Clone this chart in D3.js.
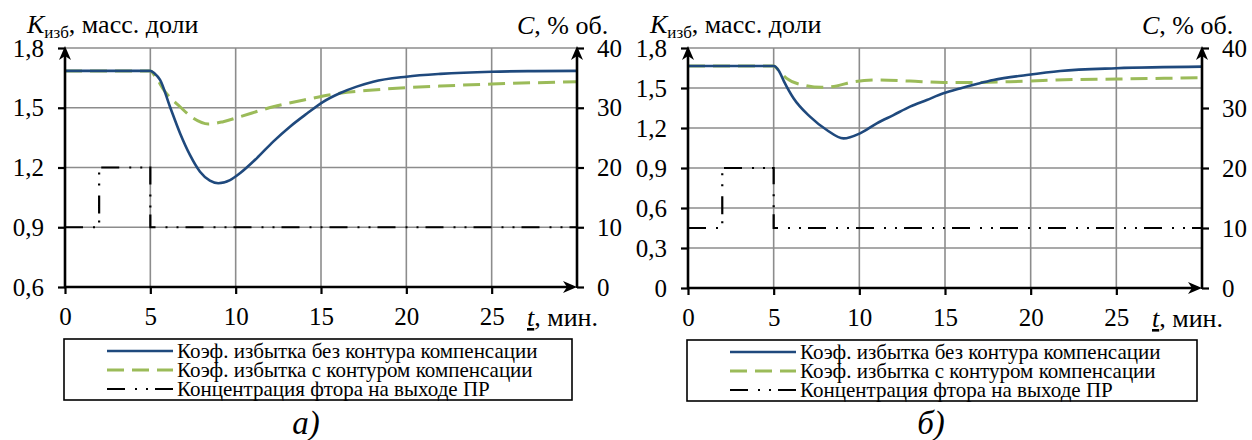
<!DOCTYPE html>
<html><head><meta charset="utf-8">
<script src="https://cdn.jsdelivr.net/npm/d3@7"></script>
<style>
body{margin:0;background:#fff}
svg{display:block}
</style>
</head><body><svg id="c" width="1252" height="440"></svg>
<script>
// ---------- data ----------
const timeTicks = [0, 5, 10, 15, 20, 25];
const timeTickLabels = ["0", "5", "10", "15", "20", "25"];
const kTicksA = [0.6, 0.9, 1.2, 1.5, 1.8];
const kTickLabelsA = ["0,6", "0,9", "1,2", "1,5", "1,8"];
const kTicksB = [0, 0.3, 0.6, 0.9, 1.2, 1.5, 1.8];
const kTickLabelsB = ["0", "0,3", "0,6", "0,9", "1,2", "1,5", "1,8"];
const cTicks = [0, 10, 20, 30, 40];
const cTickLabels = ["0", "10", "20", "30", "40"];
const legendLabels = [
  "Коэф. избытка без контура компенсации",
  "Коэф. избытка с контуром компенсации",
  "Концентрация фтора на выходе ПР"
];
const captions = ["а)", "б)"];

// panel а: coefficient without compensation
const tBlueA = [0, 5, 5.25, 5.57, 6.15, 6.74, 7.32, 7.91, 8.49, 8.98, 9.67, 10.25, 11.23, 12.2, 13.18, 14.16, 15.13, 16.1, 17.09, 18.06, 20, 22, 25, 27.5, 30];
const kBlueA = [1.685, 1.685, 1.672, 1.64, 1.505, 1.372, 1.263, 1.179, 1.134, 1.121, 1.137, 1.171, 1.246, 1.33, 1.405, 1.47, 1.53, 1.573, 1.606, 1.631, 1.656, 1.67, 1.681, 1.684, 1.685];
// panel а: coefficient with compensation
const tGreenA = [0, 5, 5.3, 5.86, 6.74, 7.52, 8.4, 9.27, 10.25, 12.2, 14.16, 16.1, 18.06, 20, 22, 25, 30];
const kGreenA = [1.685, 1.685, 1.655, 1.581, 1.505, 1.447, 1.418, 1.43, 1.455, 1.505, 1.542, 1.573, 1.589, 1.601, 1.609, 1.619, 1.631];
// panel б
const tBlueB = [0, 5, 5.3, 5.6, 6.15, 7.12, 8.1, 9.07, 10.04, 11.02, 11.99, 12.96, 13.94, 14.91, 15.88, 16.85, 17.82, 19.77, 21.72, 25, 30];
const kBlueB = [1.665, 1.665, 1.63, 1.55, 1.425, 1.285, 1.185, 1.122, 1.16, 1.235, 1.297, 1.36, 1.41, 1.46, 1.497, 1.53, 1.56, 1.597, 1.627, 1.648, 1.66];
const tGreenB = [0, 5, 5.3, 5.76, 6.73, 7.8, 8.68, 9.65, 11.02, 12.96, 14.91, 16.85, 18.8, 20, 21.5, 25, 30];
const kGreenB = [1.665, 1.665, 1.63, 1.572, 1.522, 1.505, 1.515, 1.547, 1.56, 1.552, 1.542, 1.542, 1.547, 1.552, 1.56, 1.567, 1.577];
// fluorine concentration (both panels)
const tConc = [0, 2, 2, 5, 5, 30];
const cConc = [10, 10, 20, 20, 10, 10];

// ---------- drawing ----------
const FONT = "'Liberation Serif'";
const svg = d3.select("#c").style("font-family", FONT);
const BLUE = "#1f497d", GREEN = "#9bbb59", GRID = "#8c8c8c";
const CONC_DASH = "18,10,2,9,2,7";
const GREEN_DASH = "17,8";

function arrowPath(x, y, dir) {
  if (dir === "up") return `M${x},${y} L${x - 6},${y + 14} L${x},${y + 10} L${x + 6},${y + 14} Z`;
  return `M${x},${y} L${x - 14},${y - 6} L${x - 10},${y} L${x - 14},${y + 6} Z`;
}

function txt(g, x, y, size) {
  return g.append("text").attr("x", x).attr("y", y).attr("font-size", size)
    .style("font-family", FONT).attr("fill", "#000");
}

function panel(cfg) {
  const g = svg.append("g");
  const x = d3.scaleLinear().domain([0, 30]).range([cfg.x0, cfg.x1]);
  const yK = d3.scaleLinear().domain(cfg.kDomain).range([cfg.y0, cfg.y1]);
  const yC = d3.scaleLinear().domain([0, 40]).range([cfg.y0, cfg.y1]);

  // grid
  g.append("g").selectAll("line").data(timeTicks.filter(d => d > 0)).join("line")
    .attr("x1", d => x(d)).attr("x2", d => x(d)).attr("y1", cfg.y0).attr("y2", cfg.y1)
    .attr("stroke", GRID).attr("stroke-width", 1.6);
  g.append("g").selectAll("line").data(cfg.kTicks.filter(d => d > cfg.kDomain[0])).join("line")
    .attr("x1", cfg.x0).attr("x2", cfg.x1).attr("y1", d => yK(d)).attr("y2", d => yK(d))
    .attr("stroke", GRID).attr("stroke-width", 1.6);

  // axes
  const fmtK = d => cfg.kLabels[cfg.kTicks.indexOf(d)];
  const left = g.append("g").attr("transform", `translate(${cfg.x0},0)`)
    .call(d3.axisLeft(yK).tickValues(cfg.kTicks).tickFormat(fmtK).tickSize(7).tickPadding(14));
  const right = g.append("g").attr("transform", `translate(${cfg.x1},0)`)
    .call(d3.axisRight(yC).tickValues(cTicks).tickFormat(d => cTickLabels[cTicks.indexOf(d)]).tickSize(7).tickPadding(13));
  const bottom = g.append("g").attr("transform", `translate(0,${cfg.y0})`)
    .call(d3.axisBottom(x).tickValues(timeTicks).tickFormat(d => timeTickLabels[timeTicks.indexOf(d)]).tickSize(7).tickPadding(14));
  [left, right, bottom].forEach(a => {
    a.attr("font-family", null).style("font-family", FONT);
    a.select(".domain").remove();
    a.selectAll(".tick line").attr("stroke", "#000").attr("stroke-width", 2.2);
    a.selectAll(".tick text").attr("font-size", 25).style("font-family", FONT).attr("fill", "#000");
  });
  bottom.selectAll(".tick text").attr("dy", "0.68em");

  // series
  const line = d3.line().x(d => x(d[0])).y(d => d[1]).curve(d3.curveMonotoneX);
  const concLine = d3.line().x(d => x(d[0])).y(d => yC(d[1]));
  g.append("path").attr("d", concLine(tConc.map((t, i) => [t, cConc[i]])))
    .attr("fill", "none").attr("stroke", "#000").attr("stroke-width", 2.2).attr("stroke-dasharray", CONC_DASH);
  g.append("path").attr("d", line(cfg.tGreen.map((t, i) => [t, yK(cfg.kGreen[i])])))
    .attr("fill", "none").attr("stroke", GREEN).attr("stroke-width", 3).attr("stroke-dasharray", GREEN_DASH);
  g.append("path").attr("d", line(cfg.tBlue.map((t, i) => [t, yK(cfg.kBlue[i])])))
    .attr("fill", "none").attr("stroke", BLUE).attr("stroke-width", 2.6);

  // axis lines with arrows
  g.append("line").attr("x1", cfg.x0).attr("x2", cfg.x0).attr("y1", cfg.y0 + 1).attr("y2", cfg.y1 + 4).attr("stroke", "#000").attr("stroke-width", 2.6);
  g.append("line").attr("x1", cfg.x1).attr("x2", cfg.x1).attr("y1", cfg.y0 + 1).attr("y2", cfg.y1 + 4).attr("stroke", "#000").attr("stroke-width", 2.6);
  g.append("line").attr("x1", cfg.x0 - 1).attr("x2", cfg.x1 - 4).attr("y1", cfg.y0).attr("y2", cfg.y0).attr("stroke", "#000").attr("stroke-width", 2.6);
  g.append("path").attr("d", arrowPath(cfg.x0, cfg.y1 - 2, "up")).attr("fill", "#000");
  g.append("path").attr("d", arrowPath(cfg.x1, cfg.y1 - 2, "up")).attr("fill", "#000");
  g.append("path").attr("d", arrowPath(cfg.x1, cfg.y0, "right")).attr("fill", "#000");

  // axis titles
  const kt = txt(g, cfg.x0 - 38, 33, 26);
  kt.append("tspan").attr("font-style", "italic").text("K");
  kt.append("tspan").attr("font-size", 17).attr("dy", 5).text("изб");
  kt.append("tspan").attr("dy", -5).text(", масс. доли");
  const ct = txt(g, cfg.x1 - 60, 34, 26);
  ct.append("tspan").attr("font-style", "italic").text("C");
  ct.append("tspan").text(", % об.");
  const tt = txt(g, cfg.x1 - 50, cfg.y0 + 39, 26);
  tt.append("tspan").attr("font-style", "italic").attr("text-decoration", "underline").text("t");
  tt.append("tspan").text(", мин.");

  // legend
  const ly = cfg.y0 + 52;
  g.append("rect").attr("x", cfg.x0 - 1).attr("y", ly).attr("width", cfg.x1 - cfg.x0 - 4).attr("height", 61)
    .attr("fill", "none").attr("stroke", "#000").attr("stroke-width", 1.6);
  const styles = [
    {stroke: BLUE, dash: null, w: 2.6},
    {stroke: GREEN, dash: GREEN_DASH, w: 3},
    {stroke: "#000", dash: CONC_DASH, w: 2.2}
  ];
  legendLabels.forEach((lab, i) => {
    const rowY = ly + 12 + i * 19;
    g.append("line").attr("x1", cfg.x0 + 42).attr("x2", cfg.x0 + 108).attr("y1", rowY).attr("y2", rowY)
      .attr("stroke", styles[i].stroke).attr("stroke-width", styles[i].w).attr("stroke-dasharray", styles[i].dash);
    txt(g, cfg.x0 + 112, rowY + 7, 21).text(lab);
  });

  // caption
  txt(g, cfg.capX, 434, 33).attr("font-style", "italic").attr("text-anchor", "middle").text(cfg.caption);
}

panel({x0: 65, x1: 577, y0: 287, y1: 48, kDomain: [0.6, 1.8], kTicks: kTicksA, kLabels: kTickLabelsA,
  tBlue: tBlueA, kBlue: kBlueA, tGreen: tGreenA, kGreen: kGreenA, caption: captions[0], capX: 306});
panel({x0: 688, x1: 1202, y0: 288, y1: 48, kDomain: [0, 1.8], kTicks: kTicksB, kLabels: kTickLabelsB,
  tBlue: tBlueB, kBlue: kBlueB, tGreen: tGreenB, kGreen: kGreenB, caption: captions[1], capX: 931});
</script>
</body></html>
